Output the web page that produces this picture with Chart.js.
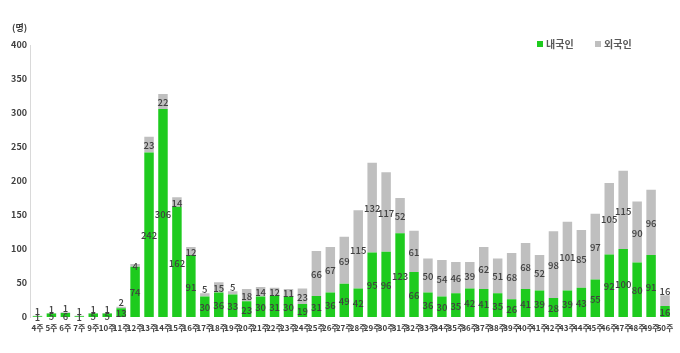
<!DOCTYPE html>
<html>
<head>
<meta charset="utf-8">
<script src="https://cdn.jsdelivr.net/npm/chart.js@4"></script>
<style>
html,body{margin:0;padding:0;background:#fff;}
#wrap{width:680px;height:353px;position:relative;}
</style>
</head>
<body>
<div id="wrap"><canvas id="c" width="680" height="353"></canvas></div>
<script>
const weeks = ['4주','5주','6주','7주','9주','10주','11주','12주','13주','14주','15주','16주','17주','18주','19주','20주','21주','22주','23주','24주','25주','26주','27주','28주','29주','30주','31주','32주','33주','34주','35주','36주','37주','38주','39주','40주','41주','42주','43주','44주','45주','46주','47주','48주','49주','50주'];
const domestic = [1,5,6,1,5,5,13,74,242,306,162,91,30,36,33,23,30,31,30,19,31,36,49,42,95,96,123,66,36,30,35,42,41,35,26,41,39,28,39,43,55,92,100,80,91,16];
const foreign = [1,1,1,1,1,1,2,4,23,22,14,12,5,15,5,18,14,12,11,23,66,67,69,115,132,117,52,61,50,54,46,39,62,51,68,68,52,98,101,85,97,105,115,90,96,16];
const yTicks = [0,50,100,150,200,250,300,350,400];
const seriesNames = ['내국인','외국인'];
const unitLabel = '(명)';

const FONT = '"Noto Sans CJK KR", "Noto Sans", sans-serif';
const GREEN = '#1ECB1E';
const GRAY = '#BFBFBF';

const labelPlugin = {
  id: 'labels',
  afterDatasetsDraw(chart) {
    const ctx = chart.ctx;
    const m0 = chart.getDatasetMeta(0).data;
    const m1 = chart.getDatasetMeta(1).data;
    ctx.save();
    ctx.font = '500 9.5px ' + FONT;
    ctx.fillStyle = '#404040';
    ctx.textAlign = 'center';
    ctx.textBaseline = 'middle';
    for (let i = 0; i < m0.length; i++) {
      const a = m0[i], b = m1[i];
      const dc = (a.y + a.base) / 2;
      ctx.fillText(String(domestic[i]), a.x, dc + 1);
      let fc = (b.y + b.base) / 2;
      if (Math.abs(dc - fc) < 13) fc = b.y - 5;
      ctx.fillText(String(foreign[i]), b.x, fc + 1);
    }
    ctx.restore();
  },
  afterDraw(chart) {
    const ctx = chart.ctx;
    ctx.save();
    ctx.textBaseline = 'middle';
    ctx.textAlign = 'left';
    ctx.font = 'bold 9px ' + FONT;
    ctx.fillStyle = '#404040';
    ctx.fillText(unitLabel, 12, 28);
    const items = [{x: 537, c: GREEN}, {x: 595, c: GRAY}];
    ctx.font = 'bold 10px ' + FONT;
    items.forEach((it, k) => {
      ctx.fillStyle = chart.data.datasets[k].backgroundColor;
      ctx.fillRect(it.x, 41, 6, 6);
      ctx.fillStyle = '#595959';
      ctx.fillText(chart.data.datasets[k].label, it.x + 9, 44.5);
    });
    ctx.restore();
  }
};

new Chart(document.getElementById('c'), {
  type: 'bar',
  data: {
    labels: weeks,
    datasets: [
      {label: seriesNames[0], data: domestic, backgroundColor: GREEN, barPercentage: 0.68, categoryPercentage: 1},
      {label: seriesNames[1], data: foreign, backgroundColor: GRAY, barPercentage: 0.68, categoryPercentage: 1}
    ]
  },
  options: {
    responsive: false,
    animation: false,
    layout: {padding: {top: 45, right: 8, left: 0, bottom: 0}},
    plugins: {legend: {display: false}, tooltip: {enabled: false}},
    scales: {
      x: {
        stacked: true,
        grid: {display: false, drawTicks: false},
        border: {display: false},
        ticks: {autoSkip: false, maxRotation: 0, minRotation: 0, padding: 6, color: '#404040', font: {family: FONT, size: 8, weight: 'bold'}},
        afterFit(s) { s.height = 36; }
      },
      y: {
        stacked: true,
        min: 0, max: 400,
        grid: {display: false, drawTicks: false},
        border: {display: true, color: '#D9D9D9', width: 1},
        afterBuildTicks(s) { s.ticks = yTicks.map(v => ({value: v})); },
        ticks: {padding: 3.5, color: '#404040', font: {family: FONT, size: 9, weight: 'bold'}},
        afterFit(s) { s.width = 30.5; }
      }
    }
  },
  plugins: [labelPlugin]
});
</script>
</body>
</html>
